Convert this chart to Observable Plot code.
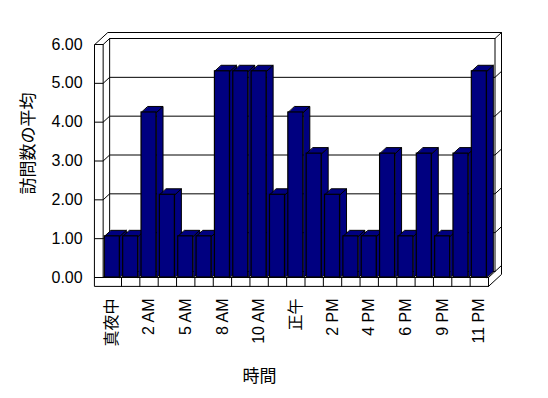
<!DOCTYPE html>
<html>
<head>
<meta charset="utf-8">
<script src="https://cdn.jsdelivr.net/npm/d3@7"></script>
<script src="https://cdn.jsdelivr.net/npm/@observablehq/plot@0.6"></script>
<style>
  html, body { margin: 0; padding: 0; background: #fff; }
  #chart svg { display: block; }
</style>
</head>
<body>
<div id="chart"></div>
<script>
// ---- data ----
const hours = ["真夜中","1 AM","2 AM","4 AM","5 AM","7 AM","8 AM","9 AM","10 AM","11 AM","正午",
               "1 PM","2 PM","3 PM","4 PM","5 PM","6 PM","8 PM","9 PM","10 PM","11 PM"];
const visits = [1.06,1.06,4.25,2.13,1.06,1.06,5.31,5.31,5.31,2.13,4.25,
                3.19,2.13,1.06,1.06,3.19,1.06,3.19,1.06,3.19,5.31];
const yTicks = [0,1,2,3,4,5,6];
const shownTicks = hours.map((h,i)=>i).filter(i => i % 2 === 0);
const yTitle = "訪問数の平均";
const xTitle = "時間";

// ---- 3D geometry (in data units) ----
const W = 548, H = 398;
const mL = 102.65, mR = 60, mT = 44, mB = 121;
const pxX = (W - mL - mR) / hours.length;   // px per category
const pxY = (H - mT - mB) / 6;              // px per unit
const DX = 6.5 / pxX, DY = 6 / pxY;         // depth offset
const WX = 8.35 / pxX;                      // left wall thickness
const FY = 8.9 / pxY;                       // floor thickness
const HB = 7.5 / pxX;                       // half bar width
const L = -0.5, R = hours.length - 0.5, T = 6;

const pts = (id, arr) => arr.map(([x, y]) => ({id, x, y}));

// outer outline of the box
const outer = pts("outer", [[L-WX,T],[L-WX+2*DX,T+2*DY],[R+2*DX,T+2*DY],[R+2*DX,-FY+2*DY],[R,-FY],[L-WX,-FY]]);

// inner frame lines
let inner = [];
inner = inner.concat(pts("lw", [[L,0],[L,T]]));
inner = inner.concat(pts("bwl", [[L+DX,DY],[L+DX,T+DY]]));
inner = inner.concat(pts("bwr", [[R+DX,DY],[R+DX,T+DY]]));
inner = inner.concat(pts("floor", [[L,0],[R,0],[R+DX,DY]]));
yTicks.forEach(v => {
  inner = inner.concat(pts("g"+v, [[L-WX,v],[L,v],[L+DX,v+DY],[R+DX,v+DY],[R+2*DX,v+2*DY]]));
});
for (let k = 1; k <= hours.length; k++) {
  inner = inner.concat(pts("d"+k, [[L+k,0],[L+k,-FY]]));
}

// bar faces
let sides = [], tops = [];
visits.forEach((v, i) => {
  const a = i - HB, b = i + HB;
  sides = sides.concat(pts("s"+i, [[b,0],[b+DX,DY],[b+DX,v+DY],[b,v]]));
  tops = tops.concat(pts("t"+i, [[a,v],[b,v],[b+DX,v+DY],[a+DX,v+DY]]));
});
const fronts = visits.map((v, i) => ({x1: i - HB, x2: i + HB, y: v}));

// title anchor points (data coordinates)
const yTitlePos = [{x: L + (28 - mL) / pxX, y: (H - mB - 143) / pxY, t: yTitle}];
const xTitlePos = [{x: L + (259 - mL) / pxX, y: (H - mB - 376.5) / pxY, t: xTitle}];

const navy = "#000080";
const font = "'Liberation Sans', 'Noto Sans CJK JP', sans-serif";

const chart = Plot.plot({
  width: W, height: H,
  marginLeft: mL, marginRight: mR, marginTop: mT, marginBottom: mB,
  x: {type: "linear", domain: [L, R], axis: null},
  y: {type: "linear", domain: [0, 6], axis: null},
  style: {fontFamily: font, fontSize: "16px", background: "#fff", color: "#000"},
  marks: [
    Plot.line(outer, {x: "x", y: "y", z: "id", curve: "linear-closed", fill: "white", stroke: "black", strokeWidth: 1}),
    Plot.line(inner, {x: "x", y: "y", z: "id", stroke: "black", strokeWidth: 1}),
    Plot.line(sides, {x: "x", y: "y", z: "id", curve: "linear-closed", fill: navy, stroke: "black", strokeWidth: 1}),
    Plot.line(tops, {x: "x", y: "y", z: "id", curve: "linear-closed", fill: navy, stroke: "black", strokeWidth: 1}),
    Plot.rectY(fronts, {x1: "x1", x2: "x2", y1: 0, y2: "y", fill: navy, stroke: "black", strokeWidth: 1.2}),
    Plot.axisY(yTicks, {tickSize: 0, tickPadding: 20.5, tickFormat: d3.format(".2f"), label: null, fontSize: 16}),
    Plot.axisX(shownTicks, {tickSize: 0, tickPadding: 21, tickRotate: -90, tickFormat: i => hours[i], label: null, fontSize: 16}),
    Plot.text(yTitlePos, {x: "x", y: "y", text: "t", rotate: -90, textAnchor: "middle", lineAnchor: "middle", fontSize: 17}),
    Plot.text(xTitlePos, {x: "x", y: "y", text: "t", textAnchor: "middle", lineAnchor: "middle", fontSize: 17})
  ]
});
document.getElementById("chart").appendChild(chart);
</script>
</body>
</html>
